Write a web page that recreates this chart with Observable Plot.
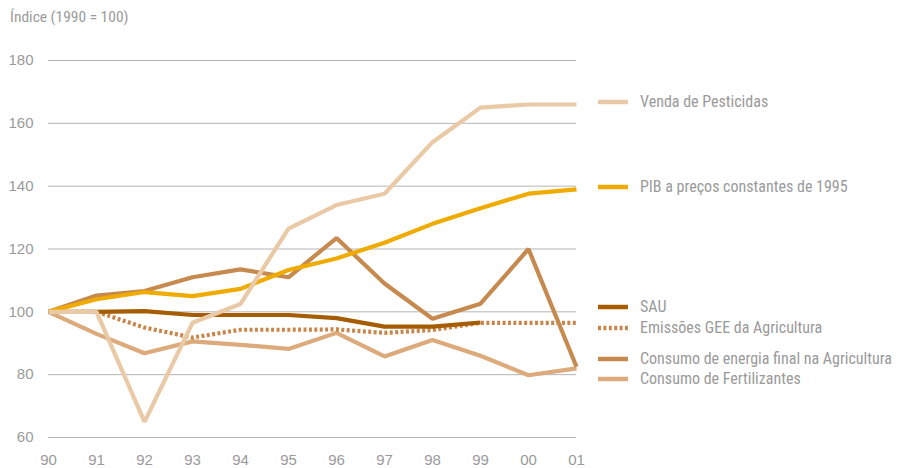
<!DOCTYPE html>
<html>
<head>
<meta charset="utf-8">
<script src="https://cdn.jsdelivr.net/npm/d3@7"></script>
<script src="https://cdn.jsdelivr.net/npm/@observablehq/plot@0.6"></script>
<style>
  body { margin: 0; background: #fff; }
  #wrap { position: relative; width: 897px; height: 468px; font-family: "Liberation Sans Narrow", "Roboto Condensed", "Liberation Sans", sans-serif; color: #9a9a9a; }
  #title { position: absolute; left: 10px; top: 8px; font-size: 15.5px; }
  #chart { position: absolute; left: 0; top: 0; }
  .lg { position: absolute; left: 598px; display: flex; align-items: center; font-size: 16px; white-space: nowrap; }
  .lg svg { margin-right: 12px; }
</style>
</head>
<body>
<div id="wrap">
  <div id="chart"></div>
  <div id="title">Índice (1990 = 100)</div>
  <div id="legend"></div>
</div>
<script>
const years = [1990, 1991, 1992, 1993, 1994, 1995, 1996, 1997, 1998, 1999, 2000, 2001];
const yTicks = [60, 80, 100, 120, 140, 160, 180];

const pesticidas   = [100, 100, 65, 96.5, 102.5, 126.5, 134, 137.6, 154, 165, 166, 166];
const pib          = [100, 104, 106.3, 105, 107.3, 113.3, 117, 122, 128, 133, 137.6, 139];
const sau          = [100, 100, 100.2, 99, 99, 99, 98, 95.3, 95.3, 96.6, null, null];
const gee          = [100, 100, 95, 91.8, 94.3, 94.3, 94.4, 93.3, 94.2, 96.5, 96.5, 96.5];
const energia      = [100, 105.2, 106.6, 111, 113.5, 111, 123.5, 109, 97.8, 102.6, 120, 82.5];
const fertilizantes = [100, 93, 86.8, 90.6, 89.5, 88.2, 93.3, 85.8, 91, 86, 79.8, 82];

const series = [
  {name: "Consumo de Fertilizantes", values: fertilizantes, color: "#dcaa7b", dash: null, legendTop: 369},
  {name: "Consumo de energia final na Agricultura", values: energia, color: "#c68a4e", dash: null, legendTop: 349},
  {name: "Emissões GEE da Agricultura", values: gee, color: "#c8864a", dash: "3,2.4", legendTop: 318},
  {name: "SAU", values: sau, color: "#a65c00", dash: null, legendTop: 297},
  {name: "PIB a preços constantes de 1995", values: pib, color: "#f0ab00", dash: null, legendTop: 177},
  {name: "Venda de Pesticidas", values: pesticidas, color: "#e9c9a6", dash: null, legendTop: 92}
];

const marks = [
  Plot.gridY(yTicks, {stroke: "#b5b5b5", strokeOpacity: 1, strokeWidth: 1}),
  Plot.axisY(yTicks, {tickSize: 0, tickPadding: 15, fontSize: 15, color: "#9a9a9a", label: null}),
  Plot.axisX(years, {tickSize: 0, tickPadding: 17, fontSize: 15, color: "#9a9a9a", label: null,
    tickFormat: d => String(d % 100).padStart(2, "0")})
];
for (const s of series) {
  const data = years.map((y, i) => ({year: y, value: s.values[i]}));
  marks.push(Plot.line(data, {
    x: "year", y: "value", stroke: s.color, strokeWidth: 4.2,
    strokeLinejoin: "miter", strokeLinecap: "butt",
    strokeDasharray: s.dash || undefined,
    defined: d => d.value != null
  }));
}

const chart = Plot.plot({
  width: 897,
  height: 468,
  marginLeft: 48,
  marginRight: 321,
  marginTop: 60,
  marginBottom: 31,
  style: {fontFamily: "'Liberation Sans Narrow', 'Liberation Sans', sans-serif", background: "transparent"},
  x: {domain: [1990, 2001]},
  y: {domain: [60, 180]},
  marks
});
document.getElementById("chart").appendChild(chart);

const legend = document.getElementById("legend");
for (const s of series) {
  const row = document.createElement("div");
  row.className = "lg";
  row.style.top = s.legendTop + "px";
  const dash = s.dash ? ` stroke-dasharray="${s.dash}"` : "";
  row.innerHTML = `<svg width="30" height="6"><line x1="0" x2="30" y1="3" y2="3" stroke="${s.color}" stroke-width="4.5"${dash}/></svg><span>${s.name}</span>`;
  legend.appendChild(row);
}
</script>
</body>
</html>
